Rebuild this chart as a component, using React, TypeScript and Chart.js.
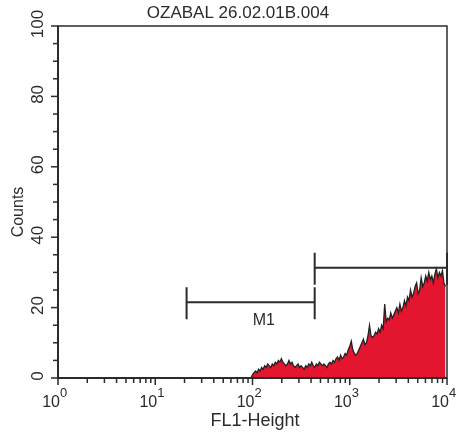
import React, { useEffect, useRef } from 'react';
import { Chart, registerables } from 'chart.js';

Chart.register(...registerables);

const TITLE = 'OZABAL 26.02.01B.004';
const X_TITLE = 'FL1-Height';
const Y_TITLE = 'Counts';

const X_DECADES = [1, 10, 100, 1000, 10000];
const X_EXPONENTS = ['0', '1', '2', '3', '4'];
const Y_LABELS = [0, 20, 40, 60, 80, 100];
const Y_TICKS = [0, 5, 10, 15, 20, 25, 30, 35, 40, 45, 50, 55, 60, 65, 70, 75, 80, 85, 90, 95, 100];

// histogram: 256 log channels over 4 decades
const CHANNELS_PER_DECADE = 64;
const EMPTY_CHANNELS = [0, 127]; // channels 0..127 hold no events
const FIRST_CHANNEL = 128;
const COUNTS = [
  1, 1.5, 2, 1.5, 2.5, 2, 3, 2.5, 3.5, 3, 4, 3.5, 3, 4, 3.5, 4.5,
  4, 5, 4.5, 5.5, 4.5, 4, 3.5, 4, 5, 4, 4.5, 3.5, 3, 3.5, 4, 3,
  3.5, 3, 2.5, 3.5, 3, 4, 3.5, 4.5, 3.5, 3, 4, 3.5, 4.5, 4, 3.5, 4,
  3.5, 3, 4, 4.5, 4, 5, 4.5, 5.5, 6, 5, 6.5, 5.5, 6, 7, 6.5, 8,
  9, 10.5, 8, 7, 6.5, 7, 8, 9, 10, 11, 9.5, 10, 12, 15, 12, 11.5,
  12, 13, 12.5, 14, 13, 15, 14, 21, 16, 17, 16.5, 18.5, 17, 18, 19, 20,
  18.5, 21, 19, 20, 22, 20.5, 23, 22, 25, 23, 24, 26, 27, 24, 25, 28.5,
  26, 27, 29, 27.5, 30, 28, 29, 27, 29.5, 31, 28.5, 30, 29, 30.5, 27, 26,
];

// markers: [start, end] in FL1 units, with count level
const M1_RANGE = [21, 436];
const M1_LEVEL = 21.5;
const M1_LABEL = 'M1';
const M1_LABEL_X = 131;
const M2_RANGE = [436, 10000];
const M2_LEVEL = 31.3;

const INK = '#2b2b2b';
const FONT = '"Liberation Sans", Arial, Helvetica, sans-serif';

export default function App() {
  const ref = useRef<HTMLCanvasElement | null>(null);

  useEffect(() => {
    document.body.style.margin = '0';
    const canvas = ref.current;
    if (!canvas) return;

    const toX = (ch: number) => Math.pow(10, ch / CHANNELS_PER_DECADE);
    const points = EMPTY_CHANNELS.map((ch) => ({ x: toX(ch), y: 0 })).concat(
      COUNTS.map((c, i) => ({ x: toX(FIRST_CHANNEL + i), y: c }))
    );

    const decor = {
      id: 'decor',
      afterDraw(chart: any) {
        const ctx = chart.ctx as CanvasRenderingContext2D;
        const a = chart.chartArea;
        const xs = chart.scales.x;
        const ys = chart.scales.y;
        ctx.save();
        ctx.strokeStyle = INK;
        ctx.fillStyle = INK;

        // frame
        ctx.lineWidth = 1.5;
        ctx.strokeRect(a.left, a.top, a.right - a.left, a.bottom - a.top);
        ctx.lineWidth = 2;
        ctx.beginPath();
        ctx.moveTo(a.left, a.top);
        ctx.lineTo(a.left, a.bottom);
        ctx.lineTo(a.right, a.bottom);
        ctx.stroke();

        // y ticks
        ctx.lineWidth = 1.5;
        Y_TICKS.forEach((v) => {
          const y = ys.getPixelForValue(v);
          const len = v % 20 === 0 ? 7 : 5;
          ctx.beginPath();
          ctx.moveTo(a.left - len, y);
          ctx.lineTo(a.left, y);
          ctx.stroke();
        });
        // x ticks
        X_DECADES.forEach((d, di) => {
          const x = xs.getPixelForValue(d);
          ctx.beginPath();
          ctx.moveTo(x, a.bottom);
          ctx.lineTo(x, a.bottom + 7);
          ctx.stroke();
          if (di < X_DECADES.length - 1) {
            for (let k = 2; k <= 9; k++) {
              const xm = xs.getPixelForValue(d * k);
              ctx.beginPath();
              ctx.moveTo(xm, a.bottom);
              ctx.lineTo(xm, a.bottom + 5);
              ctx.stroke();
            }
          }
        });

        // y labels (rotated)
        ctx.font = `17px ${FONT}`;
        ctx.textAlign = 'center';
        ctx.textBaseline = 'middle';
        Y_LABELS.forEach((v) => {
          const y = ys.getPixelForValue(v);
          ctx.save();
          ctx.translate(a.left - 20, y - 2);
          ctx.rotate(-Math.PI / 2);
          ctx.fillText(String(v), 0, 0);
          ctx.restore();
        });

        // x labels 10^n
        X_DECADES.forEach((d, i) => {
          const x = xs.getPixelForValue(d) + 2;
          ctx.textBaseline = 'alphabetic';
          ctx.font = `16px ${FONT}`;
          ctx.textAlign = 'right';
          ctx.fillText('10', x, a.bottom + 29);
          ctx.font = `13px ${FONT}`;
          ctx.textAlign = 'left';
          ctx.fillText(X_EXPONENTS[i], x, a.bottom + 19);
        });

        // axis titles
        ctx.font = `18px ${FONT}`;
        ctx.textAlign = 'center';
        ctx.textBaseline = 'alphabetic';
        ctx.fillText(X_TITLE, 255, a.bottom + 48);
        ctx.save();
        ctx.font = `16px ${FONT}`;
        ctx.translate(19, 212);
        ctx.rotate(-Math.PI / 2);
        ctx.textBaseline = 'middle';
        ctx.fillText(Y_TITLE, 0, 0);
        ctx.restore();

        // chart title
        ctx.font = `17px ${FONT}`;
        ctx.textAlign = 'center';
        ctx.textBaseline = 'alphabetic';
        ctx.fillText(TITLE, 238, 18);

        // markers
        const drawMarker = (range: number[], level: number) => {
          const x1 = xs.getPixelForValue(range[0]);
          const x2 = xs.getPixelForValue(range[1]);
          const y = ys.getPixelForValue(level);
          ctx.lineWidth = 2;
          ctx.beginPath();
          ctx.moveTo(x1, y);
          ctx.lineTo(x2, y);
          ctx.moveTo(x1, y - 15);
          ctx.lineTo(x1, y + 17);
          ctx.moveTo(x2, y - 15);
          ctx.lineTo(x2, y + 17);
          ctx.stroke();
        };
        drawMarker(M1_RANGE, M1_LEVEL);
        drawMarker(M2_RANGE, M2_LEVEL);
        ctx.font = `16px ${FONT}`;
        ctx.textAlign = 'center';
        ctx.textBaseline = 'middle';
        ctx.fillText(M1_LABEL, xs.getPixelForValue(M1_LABEL_X), ys.getPixelForValue(M1_LEVEL) + 18);

        ctx.restore();
      },
    };

    const chart = new Chart(canvas, {
      type: 'line',
      data: {
        datasets: [
          {
            data: points,
            borderColor: '#222222',
            borderWidth: 1.3,
            backgroundColor: '#e3152f',
            fill: 'origin',
            pointRadius: 0,
            tension: 0,
          },
        ],
      },
      options: {
        animation: false,
        responsive: false,
        events: [],
        layout: { padding: { top: 26, right: 10, left: 0, bottom: 0 } },
        plugins: { legend: { display: false }, title: { display: false }, tooltip: { enabled: false } },
        scales: {
          x: {
            type: 'logarithmic',
            min: 1,
            max: 10000,
            grid: { display: false },
            border: { display: false },
            ticks: { display: false },
            afterFit: (s: any) => {
              s.height = 54;
            },
          },
          y: {
            type: 'linear',
            min: 0,
            max: 100,
            grid: { display: false },
            border: { display: false },
            ticks: { display: false },
            afterFit: (s: any) => {
              s.width = 58;
            },
          },
        },
      },
      plugins: [decor],
    });

    return () => chart.destroy();
  }, []);

  return (
    <div style={{ width: 457, height: 432, background: '#fff' }}>
      <canvas ref={ref} width={457} height={432} style={{ display: 'block', width: 457, height: 432 }} />
    </div>
  );
}
